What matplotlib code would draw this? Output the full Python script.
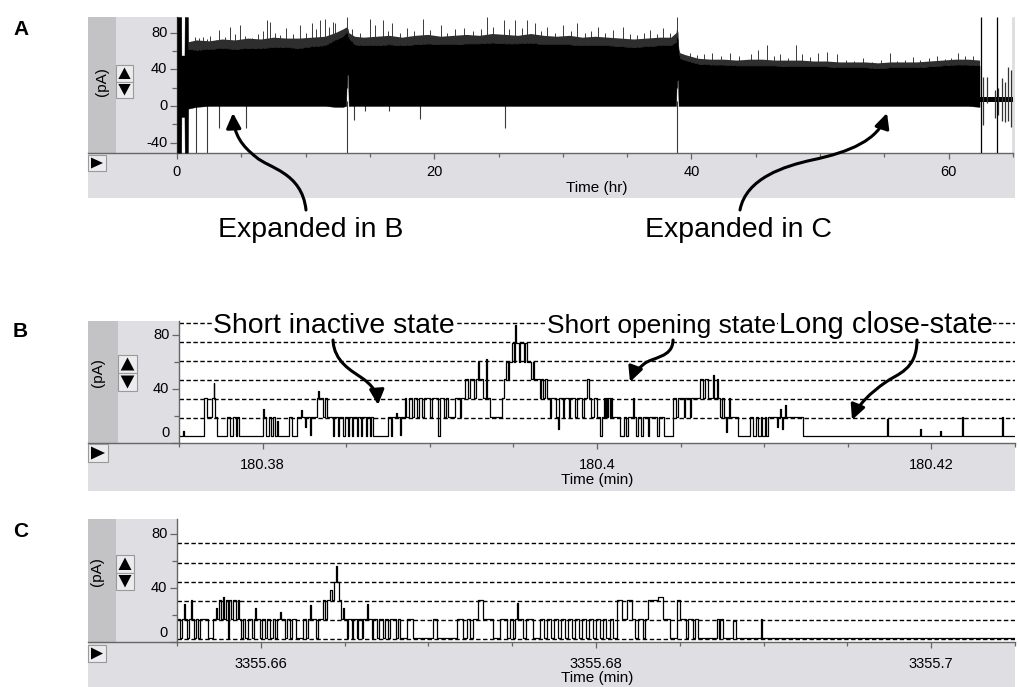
import matplotlib
matplotlib.use('Agg')
import matplotlib.pyplot as plt
from matplotlib.patches import Rectangle, FancyArrowPatch, Polygon
from matplotlib.lines import Line2D
from matplotlib.path import Path
from matplotlib.ticker import FixedLocator
import numpy as np

plt.rcParams['font.family'] = ['Liberation Sans', 'DejaVu Sans']

# ======================= DATA =======================
# ---- Panel A : 65 h recording, envelope of the dense trace (hours, pA)
a_band_t = [0.0, 0.33, 0.34, 0.58, 0.6, 0.85,
            0.87, 1.5, 2.5, 3.5, 4.5, 5.5, 6.5, 7.5, 8.5, 9.5,
            10.5, 11.5, 12.3, 12.9, 13.15, 13.2, 13.3, 13.35, 13.8, 14.5,
            15.5, 16.5, 17.5, 18.5, 19.5, 20.5, 21.5, 22.5, 23.5, 24.5,
            25.5, 26.5, 27.5, 28.5, 29.5, 30.5, 31.5, 32.5, 33.5, 34.5,
            35.5, 36.5, 37.5, 38.4, 38.8, 38.85, 38.95, 39.0, 39.1, 39.5,
            40.5, 41.5, 42.5, 43.5, 44.5, 45.5, 46.5, 47.5, 48.5, 49.5,
            50.5, 51.5, 52.5, 53.5, 54.5, 55.5, 56.5, 57.5, 58.5, 59.5,
            60.5, 61.5, 62.4]
a_band_hi = [97, 97, 55, 55, 97, 97,
             62, 61, 62, 63, 62, 63, 63, 64, 64, 63,
             65, 66, 72, 76, 80, 80, 76, 74, 67, 66,
             66, 67, 66, 67, 68, 67, 67, 68, 68, 69,
             68, 68, 69, 67, 67, 67, 66, 66, 66, 65,
             64, 65, 66, 66, 70, 75, 72, 60, 52, 50,
             46, 45, 45, 44, 44, 44, 44, 43, 43, 43,
             43, 42, 42, 42, 41, 42, 42, 42, 43, 44,
             45, 45, 44]
# top of the grey fringe of short openings above the solid band
a_fringe_hi = [97, 97, 55, 55, 97, 97,
               70, 72, 71, 73, 72, 74, 73, 75, 74, 74,
               75, 76, 80, 84, 86, 86, 84, 80, 76, 75,
               76, 77, 75, 77, 78, 76, 77, 78, 77, 79,
               78, 77, 79, 77, 76, 77, 75, 76, 75, 74,
               73, 74, 75, 75, 80, 85, 80, 62, 58, 56,
               52, 51, 51, 50, 51, 51, 50, 50, 50, 49,
               49, 48, 48, 48, 47, 48, 48, 48, 49, 50,
               51, 51, 50]
a_band_lo = [-51, -51, -12, -12, -51, -51,
             -3, -1, 0, 0, 0, 0, 0, 0, 0, 0,
             0, 0, -1, -1, 0, 34, 34, 0, 0, 0,
             0, 0, 0, 0, 0, 0, 0, 0, 0, 0,
             0, 0, 0, 0, 0, 0, 0, 0, 0, 0,
             0, 0, 0, 0, 0, 28, 28, 0, 0, 0,
             0, 0, 0, 0, 0, 0, 0, 0, 0, 0,
             0, 0, 0, 0, 0, 0, 0, 0, 0, 0,
             0, 0, -1]
# upward spikes above the band (hours, pA)
a_up_t = [1.4, 1.7, 2.0, 2.3, 2.6, 3.0, 3.3, 3.7, 4.1, 4.5,
          4.9, 5.3, 5.8, 6.3, 6.7, 7.0, 7.2, 7.6, 8.0, 8.5,
          9.0, 9.6, 10.0, 10.5, 10.8, 11.1, 11.5, 11.8, 12.1, 12.3,
          13.2, 13.6, 14.2, 15.0, 15.4, 16.0, 16.4, 16.7, 17.3, 17.9,
          18.4, 19.1, 19.7, 20.5, 21.0, 21.6, 22.3, 23.0, 23.6, 24.1,
          24.6, 25.4, 25.8, 26.3, 26.8, 27.2, 27.8, 28.3, 28.8, 29.4,
          30.0, 30.6, 31.1, 31.7, 32.2, 32.7, 33.3, 33.9, 34.7, 35.2,
          35.8, 36.3, 36.8, 37.3, 37.8, 38.3, 38.9,
          39.9, 40.4, 41.0, 41.6, 42.3, 43.0, 43.7, 44.6, 45.2, 45.9,
          46.4, 46.9, 47.5, 48.1, 48.6, 49.2, 49.8, 50.5, 51.3, 52.0,
          52.6, 53.3, 54.0, 54.7, 55.4, 56.0, 56.6, 57.2, 57.8, 58.5,
          59.1, 59.7, 60.2, 60.7, 61.3, 61.9]
a_up_v = [75, 74, 75, 73, 76, 72, 83, 75, 86, 78,
          88, 76, 74, 79, 82, 94, 92, 80, 77, 85,
          78, 88, 80, 90, 84, 94, 95, 86, 92, 90,
          97, 84, 80, 95, 88, 94, 82, 90, 80, 85,
          82, 95, 83, 88, 80, 84, 85, 82, 84, 97,
          86, 94, 84, 94, 85, 94, 90, 82, 86, 80,
          88, 82, 90, 80, 82, 86, 80, 83, 86, 79,
          77, 80, 83, 78, 85, 80, 97,
          58, 56, 57, 58, 55, 58, 54, 57, 61, 66,
          55, 57, 52, 66, 57, 53, 58, 59, 57, 50,
          49, 52, 48, 50, 58, 49, 50, 53, 50, 52,
          54, 51, 52, 58, 54, 55]
# downward spikes below the band (hours, pA)
a_dn_t = [1.5, 2.3, 3.3, 5.4, 13.2, 13.8, 14.6, 16.5, 18.9, 25.5, 38.9]
a_dn_v = [-51, -51, -24, -24, -51, -15, -5, -5, -14, -24, -51]
# artefact lines spanning the whole range (hours)
a_full_t = [62.5, 63.75, 64.97]
# after the band: closed baseline and sparse spikes
a_tail_t = [62.45, 65.0]
a_tail_lo = [4, 4]
a_tail_hi = [10, 10]
a_tsp_t = [62.65, 62.99, 63.6, 63.85, 64.15, 64.4, 64.6, 64.85]
a_tsp_lo = [-21, 3, -13, -10, -16, -18, -16, -23]
a_tsp_hi = [32, 32, 17, 20, 30, 26, 42, 39]

# ---- Panel B : step trace (ms from 180.375 min, pA)
b_ms = [0, 14, 18, 90, 100, 118, 124, 127, 129, 136,
        172, 183, 194, 205, 208, 215, 301, 305, 312, 323,
        330, 337, 345, 352, 355, 395, 406, 424, 438, 442,
        452, 456, 470, 474, 495, 499, 502, 517, 524, 531,
        553, 556, 571, 574, 589, 594, 607, 610, 621, 625,
        639, 642, 653, 657, 671, 675, 686, 689, 696, 750,
        761, 765, 779, 782, 793, 797, 811, 815, 826, 836,
        844, 854, 862, 872, 880, 901, 908, 930, 937, 951,
        958, 965, 991, 1009, 1012, 1026, 1037, 1044, 1059, 1066,
        1073, 1077, 1091, 1102, 1107, 1116, 1159, 1166, 1174, 1181,
        1185, 1195, 1203, 1206, 1210, 1221, 1224, 1238, 1242, 1249,
        1264, 1271, 1274, 1296, 1299, 1307, 1314, 1321, 1332, 1335,
        1353, 1360, 1364, 1378, 1382, 1400, 1403, 1421, 1429, 1446,
        1454, 1464, 1472, 1479, 1490, 1500, 1511, 1518, 1526, 1529,
        1533, 1536, 1540, 1545, 1551, 1554, 1583, 1597, 1604, 1612,
        1630, 1633, 1640, 1647, 1658, 1665, 1683, 1688, 1716, 1723,
        1741, 1773, 1784, 1791, 1813, 1816, 1834, 1838, 1870, 1881,
        1888, 1899, 1917, 1920, 1931, 1935, 1942, 1949, 1956, 1963,
        1967, 1974, 1978, 2006, 2049, 2060, 2071, 2078, 2089, 2092,
        2103, 2107, 2114, 2146, 2150, 2157, 2161, 2164, 2168, 2175,
        2179, 2240, 2541, 2545, 2660, 2663, 2731, 2734, 2810, 2814,
        2954, 2958, 3000]
b_pA = [5, 9, 5, 33, 19, 33, 44, 33, 19, 5,
        19, 5, 19, 5, 19, 5, 25, 19, 5, 19,
        5, 19, 5, 16, 5, 19, 5, 19, 24, 19,
        12, 19, 6, 19, 33, 38, 33, 19, 33, 19,
        5, 19, 5, 19, 5, 19, 5, 19, 5, 19,
        5, 19, 5, 19, 5, 19, 5, 19, 5, 19,
        5, 19, 22, 19, 6, 19, 33, 19, 33, 19,
        33, 19, 33, 19, 33, 19, 33, 5, 33, 19,
        33, 19, 33, 19, 33, 47, 33, 47, 33, 47,
        60, 47, 33, 62, 33, 19, 33, 47, 60, 47,
        60, 74, 60, 87, 74, 60, 74, 60, 74, 60,
        47, 60, 47, 33, 47, 33, 47, 33, 19, 33,
        19, 10, 33, 19, 33, 19, 33, 19, 33, 19,
        33, 47, 33, 19, 33, 19, 5, 19, 33, 19,
        33, 19, 33, 19, 33, 19, 5, 19, 5, 19,
        33, 19, 5, 19, 5, 19, 5, 19, 5, 19,
        5, 33, 19, 33, 19, 33, 19, 33, 47, 33,
        47, 33, 50, 33, 47, 33, 19, 33, 19, 8,
        19, 33, 19, 5, 19, 5, 19, 5, 19, 5,
        19, 5, 19, 12, 19, 25, 19, 10, 19, 28,
        19, 5, 18, 5, 10, 5, 9, 5, 19, 5,
        19, 5, 5]
b_levels = [18.4, 32.3, 46.3, 60.3, 74.3, 88.5]

# ---- Panel C : step trace (ms from 3355.655 min, pA)
c_ms = [0, 11, 18, 25, 30, 36, 43, 50, 54, 61,
        68, 75, 82, 111, 129, 140, 143, 150, 157, 165,
        168, 175, 183, 186, 193, 200, 211, 218, 222, 229,
        236, 243, 254, 268, 276, 279, 283, 297, 304, 315,
        322, 333, 344, 351, 358, 369, 372, 387, 394, 405,
        412, 426, 451, 462, 469, 476, 480, 498, 505, 523,
        530, 537, 548, 555, 562, 569, 573, 580, 587, 594,
        598, 608, 612, 626, 630, 644, 648, 662, 666, 680,
        684, 698, 702, 716, 723, 737, 745, 755, 763, 784,
        791, 798, 823, 845, 917, 931, 1002, 1023, 1038, 1049,
        1060, 1078, 1096, 1131, 1156, 1181, 1192, 1203, 1210, 1217,
        1221, 1239, 1249, 1274, 1300, 1314, 1324, 1339, 1349, 1364,
        1374, 1389, 1399, 1414, 1425, 1439, 1450, 1464, 1475, 1489,
        1500, 1514, 1525, 1536, 1550, 1561, 1575, 1593, 1611, 1629,
        1640, 1650, 1668, 1675, 1686, 1722, 1740, 1765, 1790, 1800,
        1822, 1829, 1847, 1854, 1865, 1933, 1940, 1944, 1954, 1990,
        2001, 2091, 2094, 3000]
c_pA = [17, 3, 17, 28, 17, 3, 17, 31, 17, 3,
        17, 3, 17, 3, 17, 25, 17, 31, 17, 33,
        17, 31, 3, 31, 17, 31, 17, 31, 17, 3,
        17, 3, 17, 3, 17, 25, 17, 3, 17, 3,
        17, 3, 17, 3, 17, 22, 17, 3, 17, 3,
        17, 3, 17, 3, 17, 27, 17, 3, 17, 31,
        17, 31, 38, 31, 44, 56, 44, 31, 17, 25,
        17, 3, 17, 3, 17, 3, 17, 3, 17, 28,
        17, 3, 17, 3, 17, 3, 17, 3, 17, 3,
        17, 3, 17, 3, 17, 3, 17, 3, 17, 3,
        17, 31, 17, 3, 17, 3, 17, 3, 17, 29,
        17, 3, 17, 3, 17, 3, 17, 3, 17, 3,
        17, 3, 17, 3, 17, 3, 17, 3, 17, 3,
        17, 3, 17, 3, 17, 3, 31, 17, 31, 17,
        3, 17, 3, 17, 31, 33, 17, 3, 31, 17,
        3, 17, 3, 17, 3, 17, 3, 17, 3, 15,
        3, 17, 3, 3]
c_levels = [2.2, 16.3, 30.4, 44.5, 58.5, 73.0]

# ---- axes ticks / limits
a_xlim = (0, 65)
a_ylim = (-51, 97)
a_xmajor = [0, 20, 40, 60]
a_xlabels = ['0', '20', '40', '60']
a_xminor = [5, 10, 15, 25, 30, 35, 45, 50, 55, 65]
a_ymajor = [-40, 0, 40, 80]
a_yminor = [-20, 20, 60]

b_start = 180.375
b_xlim = (180.375, 180.425)
b_ylim = (0, 90)
b_xmajor = [180.38, 180.40, 180.42]
b_xlabels = ['180.38', '180.4', '180.42']
b_xminor = [180.375, 180.385, 180.39, 180.395, 180.405, 180.41, 180.415, 180.425]

c_start = 3355.655
c_xlim = (3355.655, 3355.705)
c_ylim = (0, 91)
c_xmajor = [3355.66, 3355.68, 3355.70]
c_xlabels = ['3355.66', '3355.68', '3355.7']
c_xminor = [3355.655, 3355.665, 3355.67, 3355.675, 3355.685, 3355.69, 3355.695, 3355.705]

bc_ymajor = [0, 40, 80]
bc_yminor = [20, 60]

# ======================= FIGURE =======================
W, H = 1020, 687
fig = plt.figure(figsize=(W / 100, H / 100), dpi=100)
fig.patch.set_facecolor('white')

LIGHT = '#dedee3'
DARK = '#c3c3c5'
BTN = '#ececee'
SPINE = '#666666'


def P(x, y):
    return (x / W, 1 - y / H)


def frect(x0, y0, x1, y1, **kw):
    r = Rectangle(P(x0, y1), (x1 - x0) / W, (y1 - y0) / H,
                  transform=fig.transFigure, **kw)
    fig.add_artist(r)


def tri(pts):
    fig.add_artist(Polygon([P(*p) for p in pts], closed=True,
                           transform=fig.transFigure, facecolor='black',
                           edgecolor='none', zorder=6))


def make_panel(top, ax_bottom, bottom, ax_left, ax_right, strip_right,
               ud_box, play_box, ylab_xy):
    frect(88, top, 1015, bottom, facecolor=LIGHT, edgecolor='none', zorder=-5)
    frect(88, top, strip_right, ax_bottom, facecolor=DARK, edgecolor='none', zorder=-4)
    fig.add_artist(Line2D([88 / W, ax_left / W], [1 - ax_bottom / H] * 2,
                          transform=fig.transFigure, color=SPINE, lw=1.0, zorder=-3))
    # up / down button
    x0, y0, x1, y1 = ud_box
    ym = (y0 + y1) / 2
    frect(x0, y0, x1, ym, facecolor=BTN, edgecolor='#9a9a9a', lw=0.8, zorder=5)
    frect(x0, ym, x1, y1, facecolor=BTN, edgecolor='#9a9a9a', lw=0.8, zorder=5)
    cx = (x0 + x1) / 2
    hw = (x1 - x0) * 0.36
    tri([(cx - hw, ym - 2.5), (cx + hw, ym - 2.5), (cx, y0 + 2.5)])
    tri([(cx - hw, ym + 2.5), (cx + hw, ym + 2.5), (cx, y1 - 2.5)])
    # play button
    px0, py0, px1, py1 = play_box
    frect(px0, py0, px1, py1, facecolor=BTN, edgecolor='#9a9a9a', lw=0.8, zorder=5)
    tri([(px0 + 3, py0 + 2.5), (px0 + 3, py1 - 2.5), (px1 - 3, (py0 + py1) / 2)])
    fig.text(*P(*ylab_xy), '(pA)', rotation=90, ha='center', va='center',
             fontsize=11, zorder=6)
    ax = fig.add_axes([ax_left / W, 1 - ax_bottom / H,
                       (ax_right - ax_left) / W, (ax_bottom - top) / H])
    ax.set_facecolor('white')
    for s in ['top', 'right']:
        ax.spines[s].set_visible(False)
    for s in ['left', 'bottom']:
        ax.spines[s].set_color(SPINE)
        ax.spines[s].set_linewidth(1.0)
    return ax


def style_axes(ax, xlim, ylim, xmaj, xlab, xmin, ymaj, ymin, xpad, zero_dy, xlabel,
               xlabel_y):
    ax.set_xlim(xlim)
    ax.set_ylim(ylim)
    ax.xaxis.set_major_locator(FixedLocator(xmaj))
    ax.xaxis.set_minor_locator(FixedLocator(xmin))
    ax.set_xticklabels(xlab)
    ax.yaxis.set_major_locator(FixedLocator(ymaj))
    ax.yaxis.set_minor_locator(FixedLocator(ymin))
    ax.set_yticklabels([])
    ax.tick_params(axis='x', which='major', length=4.5, width=0.9, color=SPINE,
                   pad=xpad, labelsize=10.5)
    ax.tick_params(axis='x', which='minor', length=3, width=0.9, color=SPINE)
    ax.tick_params(axis='y', which='major', length=5, width=0.9, color=SPINE)
    ax.tick_params(axis='y', which='minor', length=3.5, width=0.9, color=SPINE)
    for v in ymaj:
        dy = zero_dy if v == 0 else 0
        ax.annotate(str(v), xy=(0, v), xycoords=ax.get_yaxis_transform(),
                    xytext=(-7, dy), textcoords='offset points', ha='right',
                    va='center', fontsize=10.5, annotation_clip=False)
    fig.text(*P(597, xlabel_y), xlabel, ha='center', va='center', fontsize=11)


# ---------------- Panel A ----------------
axA = make_panel(17, 152.7, 198, 177, 1013, 116,
                 (116, 65, 133, 98), (88, 155, 106, 171), (102, 82))
style_axes(axA, a_xlim, a_ylim, a_xmajor, a_xlabels, a_xminor,
           a_ymajor, a_yminor, 4.0, 0, 'Time (hr)', 188)
axA.vlines(a_up_t, 20, a_up_v, color='#3a3a3a', lw=0.7, zorder=2)
axA.vlines(a_dn_t, 5, a_dn_v, color='#3a3a3a', lw=0.8, zorder=2)
axA.fill_between(a_band_t, a_band_hi, a_fringe_hi, color='#2e2e2e', lw=0, zorder=3)
axA.fill_between(a_band_t, a_band_lo, a_band_hi, color='black', lw=0.3, zorder=3)
axA.fill_between(a_tail_t, a_tail_lo, a_tail_hi, color='black', lw=0, zorder=3)
axA.vlines(a_tsp_t, a_tsp_lo, a_tsp_hi, color='#333333', lw=0.9, zorder=3)
axA.vlines(a_full_t, a_ylim[0], a_ylim[1], color='black', lw=0.9, zorder=3)

# ---------------- Panel B ----------------
axB = make_panel(321, 443, 491, 179, 1015, 118,
                 (118, 355, 137, 391), (88, 444, 108, 462), (98, 373))
style_axes(axB, b_xlim, b_ylim, b_xmajor, b_xlabels, b_xminor,
           bc_ymajor, bc_yminor, 6.5, 7.0, 'Time (min)', 480)
for lv in b_levels:
    axB.axhline(lv, color='black', lw=1.0, ls=(0, (3.2, 1.8)), zorder=1)
b_t = b_start + np.array(b_ms) / 60000.0
axB.step(b_t, b_pA, where='post', color='black', lw=0.9, zorder=2)

# ---------------- Panel C ----------------
axC = make_panel(519, 641.7, 687, 177, 1015, 116,
                 (116, 555, 134, 590), (88, 645, 106, 662), (97.5, 572))
style_axes(axC, c_xlim, c_ylim, c_xmajor, c_xlabels, c_xminor,
           bc_ymajor, bc_yminor, 6.5, 6.2, 'Time (min)', 678)
for lv in c_levels:
    axC.axhline(lv, color='black', lw=1.0, ls=(0, (3.2, 1.8)), zorder=1)
c_t = c_start + np.array(c_ms) / 60000.0
axC.step(c_t, c_pA, where='post', color='black', lw=0.9, zorder=2)

# ---------------- panel letters ----------------
for letter, yb in [('A', 35), ('B', 337), ('C', 537)]:
    fig.text(*P(13, yb), letter, fontsize=15, fontweight='bold', va='baseline')

# ---------------- annotations ----------------
fig.text(*P(218, 237), 'Expanded in B', fontsize=20.5, va='baseline', zorder=8)
fig.text(*P(645, 237), 'Expanded in C', fontsize=20.5, va='baseline', zorder=8)
box = dict(facecolor='white', edgecolor='none', pad=0.5)
fig.text(*P(213, 333), 'Short inactive state', fontsize=20.4, va='baseline',
         bbox=box, zorder=8)
fig.text(*P(547, 333), 'Short opening state', fontsize=19.0, va='baseline',
         bbox=box, zorder=8)
fig.text(*P(779, 333), 'Long close-state', fontsize=21.0, va='baseline',
         bbox=box, zorder=8)


def curved_arrow(pts):
    verts = [P(x, y) for x, y in pts]
    codes = [Path.MOVETO] + [Path.CURVE4] * (len(verts) - 1)
    ar = FancyArrowPatch(path=Path(verts, codes),
                         arrowstyle='-|>,head_length=0.45,head_width=0.22',
                         mutation_scale=20, lw=2.2, color='black',
                         shrinkA=0, shrinkB=0, transform=fig.transFigure, zorder=10)
    fig.add_artist(ar)


curved_arrow([(306, 210), (302, 172), (268, 168), (256, 157), (242, 146), (234, 135), (233, 113)])
curved_arrow([(740, 210), (746, 178), (785, 166), (812, 160), (850, 152), (878, 140), (887, 113)])
curved_arrow([(333, 340), (334, 362), (352, 371), (362, 378), (372, 385), (377, 392), (378, 405)])
curved_arrow([(673, 340), (673, 358), (652, 357), (644, 364), (637, 370), (633, 374), (630, 382)])
curved_arrow([(917, 340), (917, 370), (897, 374), (886, 382), (870, 393), (858, 405), (852, 420)])

fig.savefig('out.png', dpi=100, facecolor='white')
